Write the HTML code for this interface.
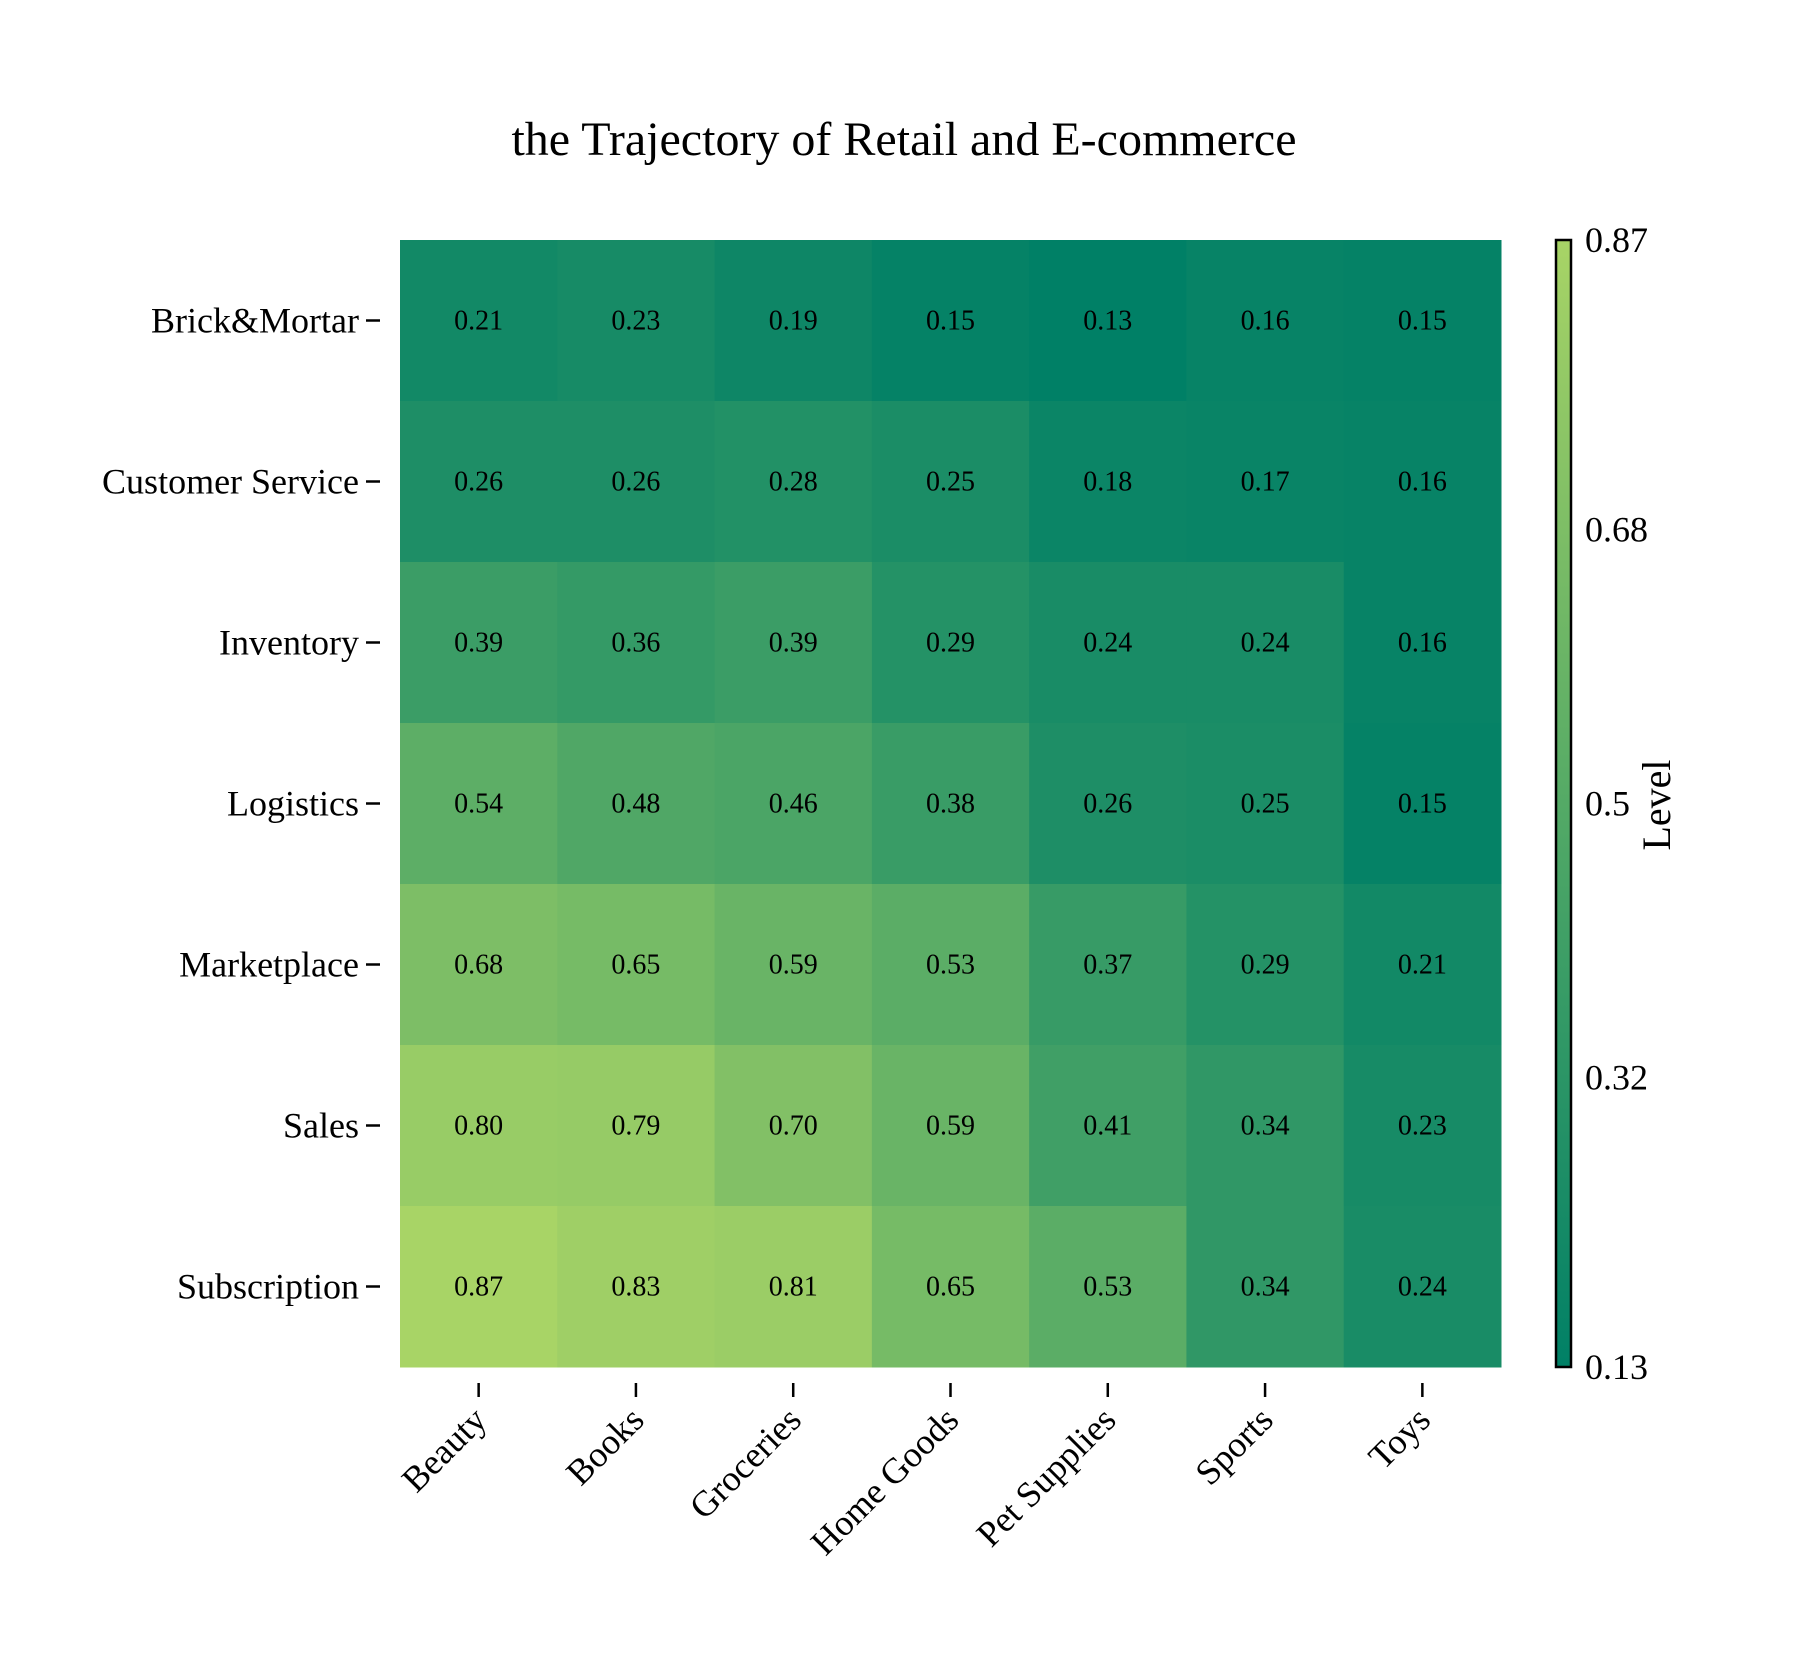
<!DOCTYPE html>
<html><head><meta charset="utf-8"><style>
body{margin:0;background:#fff;}
svg{display:block;font-family:"Liberation Serif",serif;}
</style></head><body>
<svg id="chart" width="1800" height="1680">
<text x="904" y="155" font-size="48" text-anchor="middle">the Trajectory of Retail and E-commerce</text>
</svg>
<script>
const rows = ["Brick&Mortar","Customer Service","Inventory","Logistics","Marketplace","Sales","Subscription"];
const cols = ["Beauty","Books","Groceries","Home Goods","Pet Supplies","Sports","Toys"];
const values = [
[0.21,0.23,0.19,0.15,0.13,0.16,0.15],
[0.26,0.26,0.28,0.25,0.18,0.17,0.16],
[0.39,0.36,0.39,0.29,0.24,0.24,0.16],
[0.54,0.48,0.46,0.38,0.26,0.25,0.15],
[0.68,0.65,0.59,0.53,0.37,0.29,0.21],
[0.80,0.79,0.70,0.59,0.41,0.34,0.23],
[0.87,0.83,0.81,0.65,0.53,0.34,0.24]];
const cbTicks = [0.87,0.68,0.5,0.32,0.13];
const vmin = 0.13, vmax = 0.87;

const NS="http://www.w3.org/2000/svg";
const svg=document.getElementById('chart');
const L=400,R=1501,T=240,B=1367;
const cw=(R-L)/cols.length, rh=(B-T)/rows.length;
const xPos=i=>L+i*cw, yPos=j=>T+j*rh;
function color(v){const t=0.66*Math.max(0,Math.min(1,(v-vmin)/(vmax-vmin)));
return `rgb(${Math.round(t*255)},${Math.round((0.5+t/2)*255)},102)`;}
function mk(tag,attrs){const e=document.createElementNS(NS,tag);for(const k in attrs)e.setAttribute(k,attrs[k]);svg.appendChild(e);return e;}
values.forEach((row,j)=>row.forEach((v,i)=>{
 const r=mk('rect',{x:xPos(i),y:yPos(j),width:cw+0.5,height:rh+0.5,fill:color(v)});
 
 
 const t=mk('text',{x:xPos(i)+cw/2,y:yPos(j)+rh/2+9,'font-size':28,'text-anchor':'middle'});
 t.textContent=v.toFixed(2);
 
 
}));
rows.forEach((n,j)=>{
 const y=yPos(j)+rh/2;
 mk('line',{x1:366,x2:380,y1:y,y2:y,stroke:'#000','stroke-width':2.5});
 const t=mk('text',{x:359,y:y+12,'font-size':36,'text-anchor':'end'});
 t.textContent=n;
 
 
});
cols.forEach((n,i)=>{
 const x=xPos(i)+cw/2;
 mk('line',{x1:x,x2:x,y1:1383,y2:1397,stroke:'#000','stroke-width':2.5});
 const t=mk('text',{x:x+10,y:1422,'font-size':36,'text-anchor':'end',transform:`rotate(-45 ${x+10} 1422)`});
 t.textContent=n;
 
 
});
const defs=mk('defs',{});
const g=document.createElementNS(NS,'linearGradient');g.setAttribute('id','cb');g.setAttribute('x1',0);g.setAttribute('x2',0);g.setAttribute('y1',1);g.setAttribute('y2',0);
for(let k=0;k<=10;k++){const s=document.createElementNS(NS,'stop');s.setAttribute('offset',k/10);s.setAttribute('stop-color',color(vmin+(vmax-vmin)*k/10));g.appendChild(s);}
defs.appendChild(g);
const cb=mk('rect',{x:1556,y:T,width:15,height:B-T,fill:'url(#cb)',stroke:'#000','stroke-width':2.5});


const cbY=v=>B-(v-vmin)/(vmax-vmin)*(B-T);
cbTicks.forEach(v=>{
 const t=mk('text',{x:1585,y:cbY(v)+12,'font-size':36});
 t.textContent=String(v);
 
 
});
const lv=mk('text',{x:1670,y:805,'font-size':40,'text-anchor':'middle',transform:'rotate(-90 1670 805)'});
lv.textContent='Level';


</script>
</body></html>
